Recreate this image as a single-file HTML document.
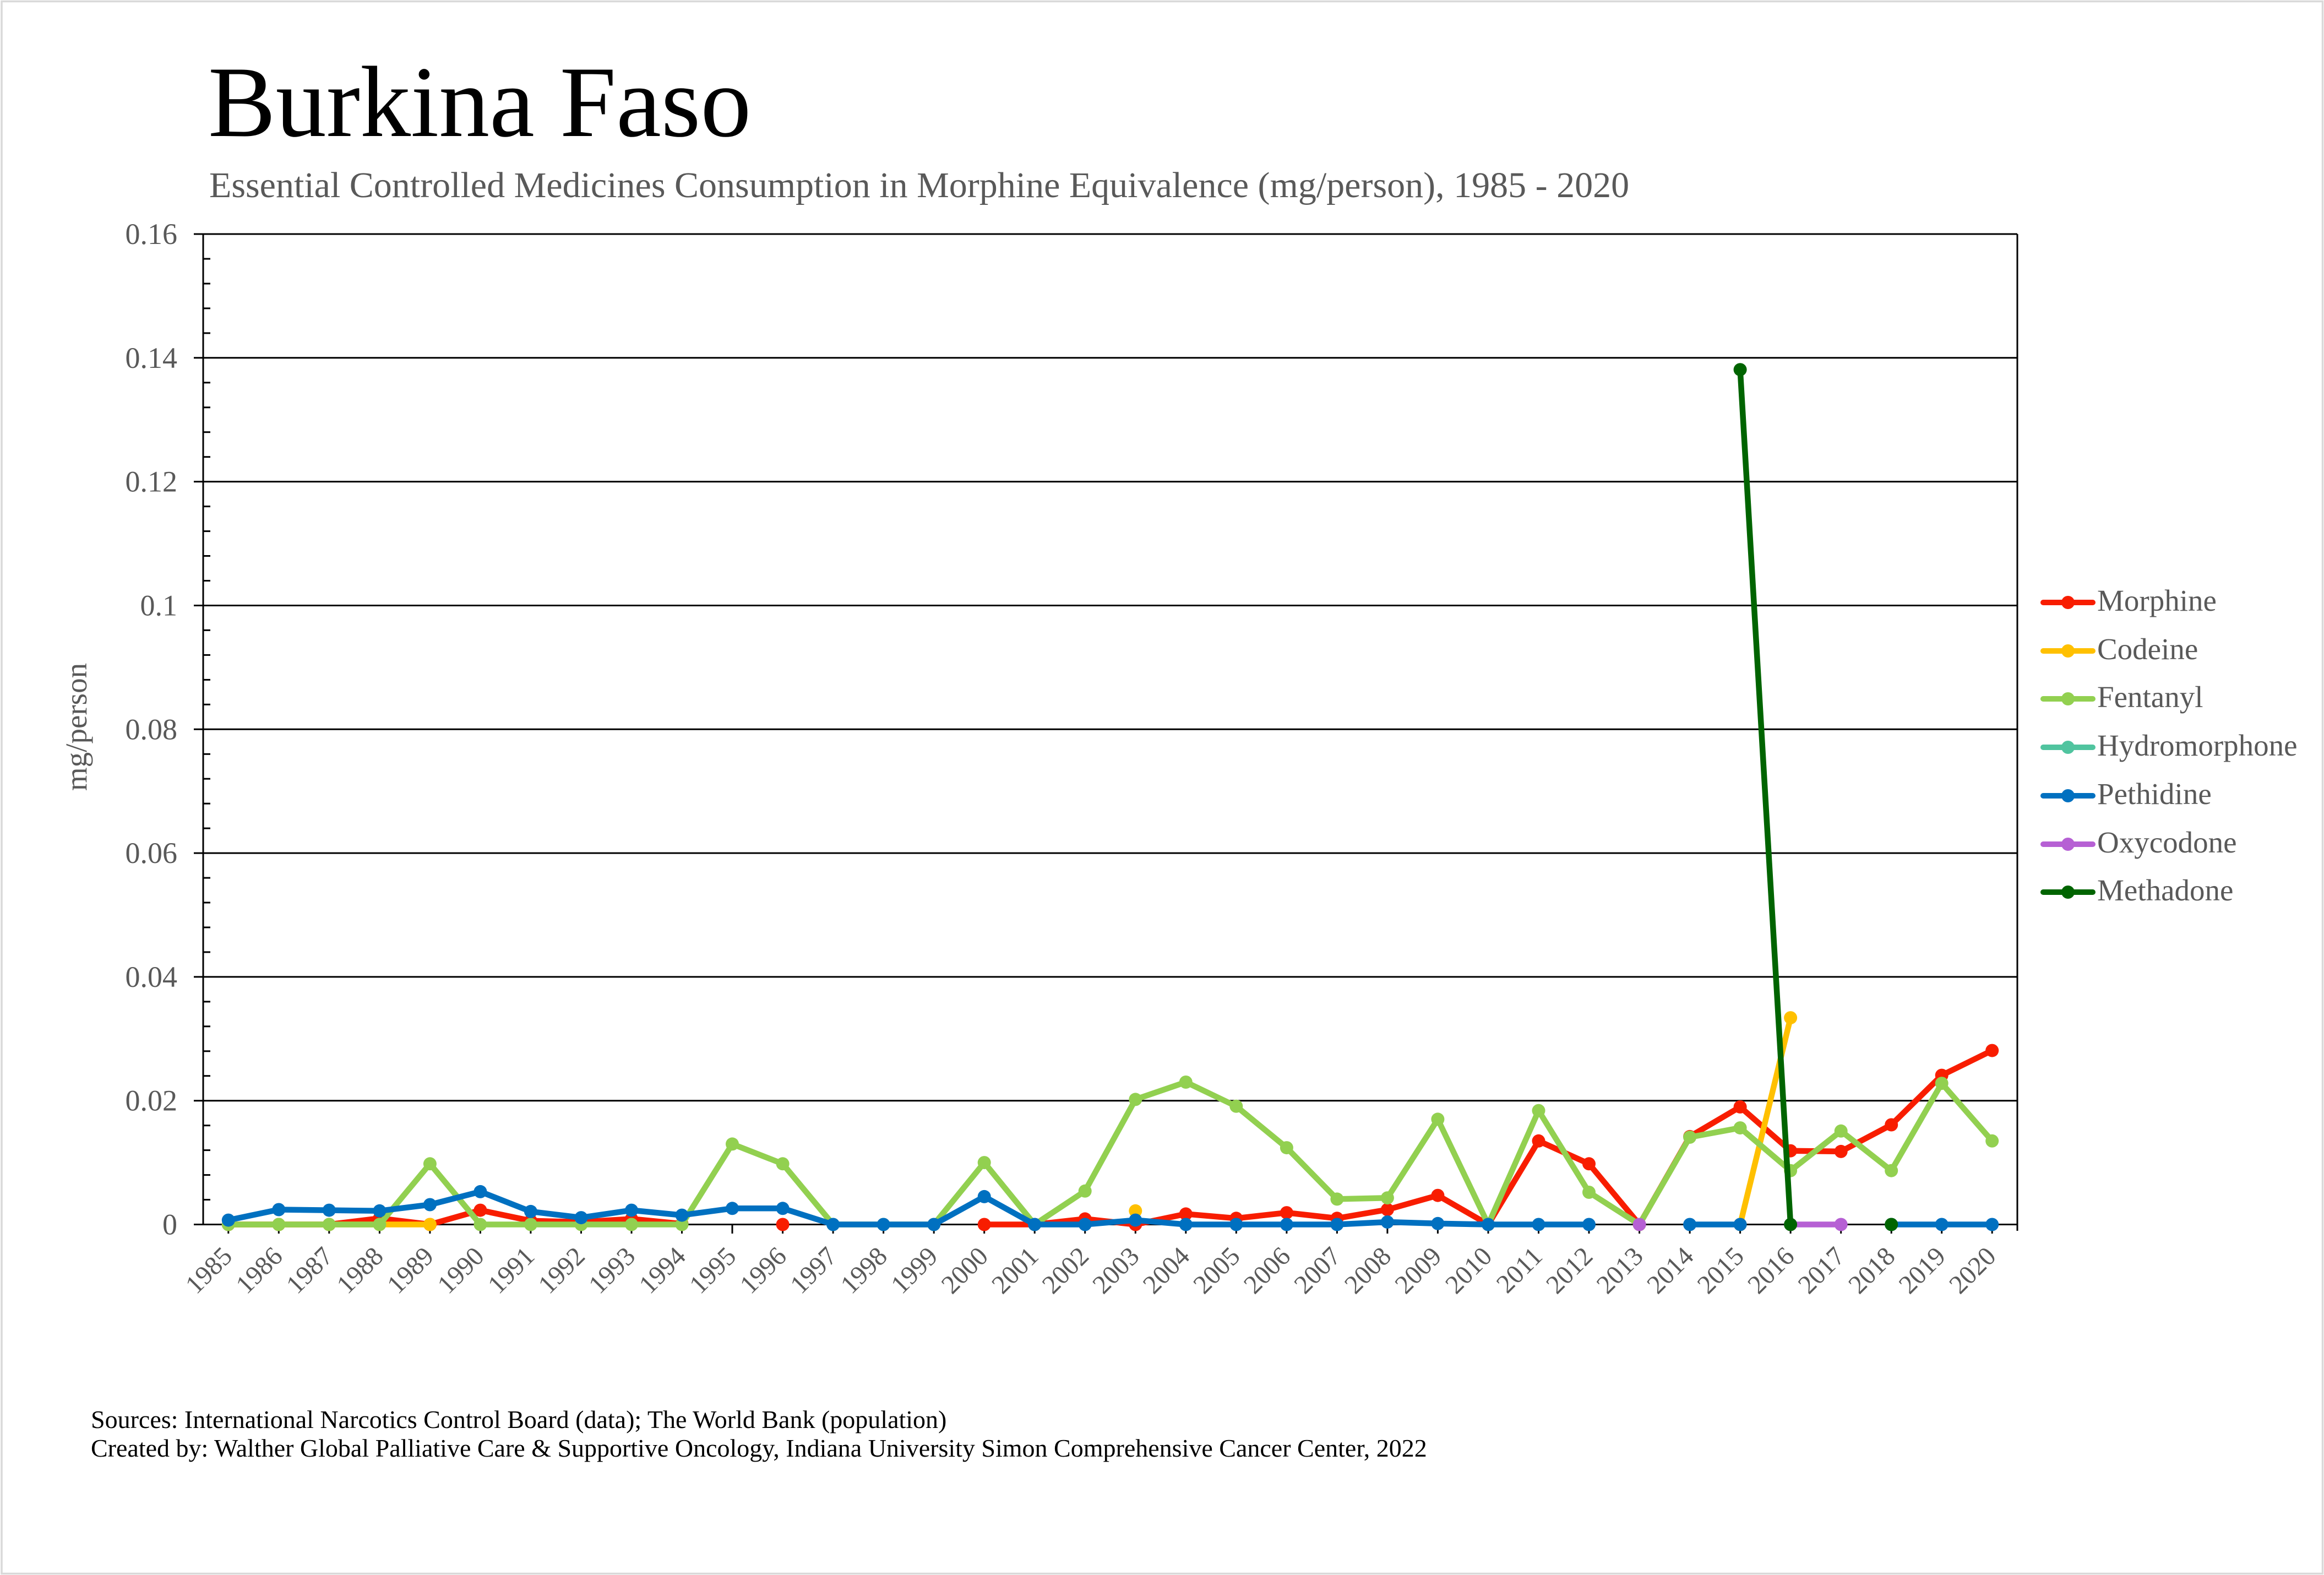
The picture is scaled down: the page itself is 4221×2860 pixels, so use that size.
<!DOCTYPE html>
<html>
<head>
<meta charset="utf-8">
<style>
html,body{margin:0;padding:0;background:#fff;}
svg{display:block;}
text{font-family:"Liberation Serif","Times New Roman",serif;}
</style>
</head>
<body>
<svg width="4221" height="2860" viewBox="0 0 4221 2860" xmlns="http://www.w3.org/2000/svg">
<rect x="0" y="0" width="4221" height="2860" fill="#fff"/>
<rect x="3" y="2.5" width="4215.5" height="2855" fill="none" stroke="#d9d9d9" stroke-width="3.5"/>

<!-- Title -->
<text x="378" y="247" font-size="184" fill="#000">Burkina Faso</text>
<text x="380" y="358" font-size="66" fill="#595959">Essential Controlled Medicines Consumption in Morphine Equivalence (mg/person), 1985 - 2020</text>

<!-- Gridlines + major ticks -->
<g stroke="#000" stroke-width="3">
<line x1="352" y1="425" x2="3664" y2="425"/>
<line x1="352" y1="649.8" x2="3664" y2="649.8"/>
<line x1="352" y1="874.6" x2="3664" y2="874.6"/>
<line x1="352" y1="1099.5" x2="3664" y2="1099.5"/>
<line x1="352" y1="1324.3" x2="3664" y2="1324.3"/>
<line x1="352" y1="1549.1" x2="3664" y2="1549.1"/>
<line x1="352" y1="1773.9" x2="3664" y2="1773.9"/>
<line x1="352" y1="1998.7" x2="3664" y2="1998.7"/>
<line x1="352" y1="2223.5" x2="3664" y2="2223.5"/>
<!-- axes / border -->
<line x1="369" y1="425" x2="369" y2="2223.5"/>
<line x1="3664" y1="425" x2="3664" y2="2235"/>
</g>
<!-- minor ticks -->
<g stroke="#000" stroke-width="3">
<line x1="369" y1="470" x2="382" y2="470"/><line x1="369" y1="515" x2="382" y2="515"/><line x1="369" y1="559.9" x2="382" y2="559.9"/><line x1="369" y1="604.9" x2="382" y2="604.9"/>
<line x1="369" y1="694.8" x2="382" y2="694.8"/><line x1="369" y1="739.8" x2="382" y2="739.8"/><line x1="369" y1="784.7" x2="382" y2="784.7"/><line x1="369" y1="829.7" x2="382" y2="829.7"/>
<line x1="369" y1="919.6" x2="382" y2="919.6"/><line x1="369" y1="964.6" x2="382" y2="964.6"/><line x1="369" y1="1009.5" x2="382" y2="1009.5"/><line x1="369" y1="1054.5" x2="382" y2="1054.5"/>
<line x1="369" y1="1144.4" x2="382" y2="1144.4"/><line x1="369" y1="1189.4" x2="382" y2="1189.4"/><line x1="369" y1="1234.4" x2="382" y2="1234.4"/><line x1="369" y1="1279.3" x2="382" y2="1279.3"/>
<line x1="369" y1="1369.3" x2="382" y2="1369.3"/><line x1="369" y1="1414.2" x2="382" y2="1414.2"/><line x1="369" y1="1459.2" x2="382" y2="1459.2"/><line x1="369" y1="1504.1" x2="382" y2="1504.1"/>
<line x1="369" y1="1594.1" x2="382" y2="1594.1"/><line x1="369" y1="1639" x2="382" y2="1639"/><line x1="369" y1="1684" x2="382" y2="1684"/><line x1="369" y1="1728.9" x2="382" y2="1728.9"/>
<line x1="369" y1="1818.9" x2="382" y2="1818.9"/><line x1="369" y1="1863.8" x2="382" y2="1863.8"/><line x1="369" y1="1908.8" x2="382" y2="1908.8"/><line x1="369" y1="1953.7" x2="382" y2="1953.7"/>
<line x1="369" y1="2043.7" x2="382" y2="2043.7"/><line x1="369" y1="2088.6" x2="382" y2="2088.6"/><line x1="369" y1="2133.6" x2="382" y2="2133.6"/><line x1="369" y1="2178.5" x2="382" y2="2178.5"/>
</g>
<!-- category ticks -->
<g stroke="#000" stroke-width="3">
<line x1="414.8" y1="2223" x2="414.8" y2="2240"/><line x1="506.3" y1="2223" x2="506.3" y2="2240"/><line x1="597.8" y1="2223" x2="597.8" y2="2240"/><line x1="689.4" y1="2223" x2="689.4" y2="2240"/>
<line x1="780.9" y1="2223" x2="780.9" y2="2240"/><line x1="872.4" y1="2223" x2="872.4" y2="2240"/><line x1="963.9" y1="2223" x2="963.9" y2="2240"/><line x1="1055.5" y1="2223" x2="1055.5" y2="2240"/>
<line x1="1147" y1="2223" x2="1147" y2="2240"/><line x1="1238.5" y1="2223" x2="1238.5" y2="2240"/><line x1="1330" y1="2223" x2="1330" y2="2240"/><line x1="1421.6" y1="2223" x2="1421.6" y2="2240"/>
<line x1="1513.1" y1="2223" x2="1513.1" y2="2240"/><line x1="1604.6" y1="2223" x2="1604.6" y2="2240"/><line x1="1696.2" y1="2223" x2="1696.2" y2="2240"/><line x1="1787.7" y1="2223" x2="1787.7" y2="2240"/>
<line x1="1879.2" y1="2223" x2="1879.2" y2="2240"/><line x1="1970.7" y1="2223" x2="1970.7" y2="2240"/><line x1="2062.3" y1="2223" x2="2062.3" y2="2240"/><line x1="2153.8" y1="2223" x2="2153.8" y2="2240"/>
<line x1="2245.3" y1="2223" x2="2245.3" y2="2240"/><line x1="2336.9" y1="2223" x2="2336.9" y2="2240"/><line x1="2428.4" y1="2223" x2="2428.4" y2="2240"/><line x1="2519.9" y1="2223" x2="2519.9" y2="2240"/>
<line x1="2611.4" y1="2223" x2="2611.4" y2="2240"/><line x1="2703" y1="2223" x2="2703" y2="2240"/><line x1="2794.5" y1="2223" x2="2794.5" y2="2240"/><line x1="2886" y1="2223" x2="2886" y2="2240"/>
<line x1="2977.6" y1="2223" x2="2977.6" y2="2240"/><line x1="3069.1" y1="2223" x2="3069.1" y2="2240"/><line x1="3160.6" y1="2223" x2="3160.6" y2="2240"/><line x1="3252.1" y1="2223" x2="3252.1" y2="2240"/>
<line x1="3343.7" y1="2223" x2="3343.7" y2="2240"/><line x1="3435.2" y1="2223" x2="3435.2" y2="2240"/><line x1="3526.7" y1="2223" x2="3526.7" y2="2240"/><line x1="3618.2" y1="2223" x2="3618.2" y2="2240"/>
</g>

<!-- Y labels -->
<g font-size="54" fill="#595959" text-anchor="end">
<text x="322" y="443">0.16</text>
<text x="322" y="667.8">0.14</text>
<text x="322" y="892.6">0.12</text>
<text x="322" y="1117.5">0.1</text>
<text x="322" y="1342.3">0.08</text>
<text x="322" y="1567.1">0.06</text>
<text x="322" y="1791.9">0.04</text>
<text x="322" y="2016.7">0.02</text>
<text x="322" y="2241.5">0</text>
</g>
<text x="157" y="1320" font-size="55" fill="#595959" text-anchor="middle" transform="rotate(-90 157 1320)">mg/person</text>

<!-- X labels -->
<g font-size="48" fill="#595959" text-anchor="end">
<text x="424.3" y="2284" transform="rotate(-45 424.3 2284)">1985</text>
<text x="515.8" y="2284" transform="rotate(-45 515.8 2284)">1986</text>
<text x="607.3" y="2284" transform="rotate(-45 607.3 2284)">1987</text>
<text x="698.9" y="2284" transform="rotate(-45 698.9 2284)">1988</text>
<text x="790.4" y="2284" transform="rotate(-45 790.4 2284)">1989</text>
<text x="881.9" y="2284" transform="rotate(-45 881.9 2284)">1990</text>
<text x="973.4" y="2284" transform="rotate(-45 973.4 2284)">1991</text>
<text x="1065" y="2284" transform="rotate(-45 1065 2284)">1992</text>
<text x="1156.5" y="2284" transform="rotate(-45 1156.5 2284)">1993</text>
<text x="1248" y="2284" transform="rotate(-45 1248 2284)">1994</text>
<text x="1339.5" y="2284" transform="rotate(-45 1339.5 2284)">1995</text>
<text x="1431.1" y="2284" transform="rotate(-45 1431.1 2284)">1996</text>
<text x="1522.6" y="2284" transform="rotate(-45 1522.6 2284)">1997</text>
<text x="1614.1" y="2284" transform="rotate(-45 1614.1 2284)">1998</text>
<text x="1705.7" y="2284" transform="rotate(-45 1705.7 2284)">1999</text>
<text x="1797.2" y="2284" transform="rotate(-45 1797.2 2284)">2000</text>
<text x="1888.7" y="2284" transform="rotate(-45 1888.7 2284)">2001</text>
<text x="1980.2" y="2284" transform="rotate(-45 1980.2 2284)">2002</text>
<text x="2071.8" y="2284" transform="rotate(-45 2071.8 2284)">2003</text>
<text x="2163.3" y="2284" transform="rotate(-45 2163.3 2284)">2004</text>
<text x="2254.8" y="2284" transform="rotate(-45 2254.8 2284)">2005</text>
<text x="2346.4" y="2284" transform="rotate(-45 2346.4 2284)">2006</text>
<text x="2437.9" y="2284" transform="rotate(-45 2437.9 2284)">2007</text>
<text x="2529.4" y="2284" transform="rotate(-45 2529.4 2284)">2008</text>
<text x="2620.9" y="2284" transform="rotate(-45 2620.9 2284)">2009</text>
<text x="2712.5" y="2284" transform="rotate(-45 2712.5 2284)">2010</text>
<text x="2804" y="2284" transform="rotate(-45 2804 2284)">2011</text>
<text x="2895.5" y="2284" transform="rotate(-45 2895.5 2284)">2012</text>
<text x="2987.1" y="2284" transform="rotate(-45 2987.1 2284)">2013</text>
<text x="3078.6" y="2284" transform="rotate(-45 3078.6 2284)">2014</text>
<text x="3170.1" y="2284" transform="rotate(-45 3170.1 2284)">2015</text>
<text x="3261.6" y="2284" transform="rotate(-45 3261.6 2284)">2016</text>
<text x="3353.2" y="2284" transform="rotate(-45 3353.2 2284)">2017</text>
<text x="3444.7" y="2284" transform="rotate(-45 3444.7 2284)">2018</text>
<text x="3536.2" y="2284" transform="rotate(-45 3536.2 2284)">2019</text>
<text x="3627.7" y="2284" transform="rotate(-45 3627.7 2284)">2020</text>
</g>

<!-- Series: Morphine -->
<g stroke="#F81D00" fill="#F81D00" stroke-width="10.5" stroke-linejoin="round" stroke-linecap="round">
<polyline fill="none" points="414.8,2223.5 506.3,2223.5 597.8,2223.5 689.4,2212.3 780.9,2223.5 872.4,2197.6 963.9,2216.8 1055.5,2219 1147,2213.4 1238.5,2222.4"/>
<polyline fill="none" points="1787.7,2223.5 1879.2,2223.5 1970.7,2213.4 2062.3,2223.5 2153.8,2204.4 2245.3,2212.3 2336.9,2202.1 2428.4,2212.3 2519.9,2196.5 2611.4,2170.7 2703,2223.5 2794.5,2071.8 2886,2113.3 2977.6,2223.5 3069.1,2063.9 3160.6,2010 3252.1,2089.7 3343.7,2090.9 3435.2,2042.5 3526.7,1952.6 3618.2,1907.6"/>
<g stroke="none">
<circle cx="414.8" cy="2223.5" r="12"/><circle cx="506.3" cy="2223.5" r="12"/><circle cx="597.8" cy="2223.5" r="12"/><circle cx="689.4" cy="2212.3" r="12"/><circle cx="780.9" cy="2223.5" r="12"/><circle cx="872.4" cy="2197.6" r="12"/><circle cx="963.9" cy="2216.8" r="12"/><circle cx="1055.5" cy="2219" r="12"/><circle cx="1147" cy="2213.4" r="12"/><circle cx="1238.5" cy="2222.4" r="12"/>
<circle cx="1421.6" cy="2223.5" r="12"/>
<circle cx="1787.7" cy="2223.5" r="12"/><circle cx="1879.2" cy="2223.5" r="12"/><circle cx="1970.7" cy="2213.4" r="12"/><circle cx="2062.3" cy="2223.5" r="12"/><circle cx="2153.8" cy="2204.4" r="12"/><circle cx="2245.3" cy="2212.3" r="12"/><circle cx="2336.9" cy="2202.1" r="12"/><circle cx="2428.4" cy="2212.3" r="12"/><circle cx="2519.9" cy="2196.5" r="12"/><circle cx="2611.4" cy="2170.7" r="12"/><circle cx="2703" cy="2223.5" r="12"/><circle cx="2794.5" cy="2071.8" r="12"/><circle cx="2886" cy="2113.3" r="12"/><circle cx="2977.6" cy="2223.5" r="12"/><circle cx="3069.1" cy="2063.9" r="12"/><circle cx="3160.6" cy="2010" r="12"/><circle cx="3252.1" cy="2089.7" r="12"/><circle cx="3343.7" cy="2090.9" r="12"/><circle cx="3435.2" cy="2042.5" r="12"/><circle cx="3526.7" cy="1952.6" r="12"/><circle cx="3618.2" cy="1907.6" r="12"/>
</g>
</g>

<!-- Codeine -->
<g stroke="#FFC000" fill="#FFC000" stroke-width="10.5" stroke-linejoin="round" stroke-linecap="round">
<polyline fill="none" points="414.8,2223.5 506.3,2223.5 597.8,2223.5 689.4,2223.5 780.9,2223.5"/>
<polyline fill="none" points="3160.6,2223.5 3252.1,1848.1"/>
<g stroke="none">
<circle cx="414.8" cy="2223.5" r="12"/><circle cx="506.3" cy="2223.5" r="12"/><circle cx="597.8" cy="2223.5" r="12"/><circle cx="689.4" cy="2223.5" r="12"/><circle cx="780.9" cy="2223.5" r="12"/>
<circle cx="2062.3" cy="2198.8" r="12"/>
<circle cx="3160.6" cy="2223.5" r="12"/><circle cx="3252.1" cy="1848.1" r="12"/>
</g>
</g>

<!-- Fentanyl -->
<g stroke="#92D050" fill="#92D050" stroke-width="10.5" stroke-linejoin="round" stroke-linecap="round">
<polyline fill="none" points="414.8,2223.5 506.3,2223.5 597.8,2223.5 689.4,2223.5 780.9,2113.3 872.4,2223.5 963.9,2223.5 1055.5,2223.5 1147,2223.5 1238.5,2223.5 1330,2077.4 1421.6,2113.3 1513.1,2223.5 1604.6,2223.5 1696.2,2223.5 1787.7,2111.1 1879.2,2223.5 1970.7,2162.8 2062.3,1996.4 2153.8,1965 2245.3,2008.8 2336.9,2084.1 2428.4,2177.4 2519.9,2175.2 2611.4,2032.4 2703,2223.5 2794.5,2016.7 2886,2165 2977.6,2223.5 3069.1,2065 3160.6,2048.1 3252.1,2125.7 3343.7,2053.8 3435.2,2125.7 3526.7,1967.2 3618.2,2071.8"/>
<g stroke="none">
<circle cx="414.8" cy="2223.5" r="12"/><circle cx="506.3" cy="2223.5" r="12"/><circle cx="597.8" cy="2223.5" r="12"/><circle cx="689.4" cy="2223.5" r="12"/><circle cx="780.9" cy="2113.3" r="12"/><circle cx="872.4" cy="2223.5" r="12"/><circle cx="963.9" cy="2223.5" r="12"/><circle cx="1055.5" cy="2223.5" r="12"/><circle cx="1147" cy="2223.5" r="12"/><circle cx="1238.5" cy="2223.5" r="12"/><circle cx="1330" cy="2077.4" r="12"/><circle cx="1421.6" cy="2113.3" r="12"/><circle cx="1513.1" cy="2223.5" r="12"/><circle cx="1604.6" cy="2223.5" r="12"/><circle cx="1696.2" cy="2223.5" r="12"/><circle cx="1787.7" cy="2111.1" r="12"/><circle cx="1879.2" cy="2223.5" r="12"/><circle cx="1970.7" cy="2162.8" r="12"/><circle cx="2062.3" cy="1996.4" r="12"/><circle cx="2153.8" cy="1965" r="12"/><circle cx="2245.3" cy="2008.8" r="12"/><circle cx="2336.9" cy="2084.1" r="12"/><circle cx="2428.4" cy="2177.4" r="12"/><circle cx="2519.9" cy="2175.2" r="12"/><circle cx="2611.4" cy="2032.4" r="12"/><circle cx="2703" cy="2223.5" r="12"/><circle cx="2794.5" cy="2016.7" r="12"/><circle cx="2886" cy="2165" r="12"/><circle cx="2977.6" cy="2223.5" r="12"/><circle cx="3069.1" cy="2065" r="12"/><circle cx="3160.6" cy="2048.1" r="12"/><circle cx="3252.1" cy="2125.7" r="12"/><circle cx="3343.7" cy="2053.8" r="12"/><circle cx="3435.2" cy="2125.7" r="12"/><circle cx="3526.7" cy="1967.2" r="12"/><circle cx="3618.2" cy="2071.8" r="12"/>
</g>
</g>

<!-- Pethidine -->
<g stroke="#0070C0" fill="#0070C0" stroke-width="10.5" stroke-linejoin="round" stroke-linecap="round">
<polyline fill="none" points="414.8,2215.6 506.3,2196.5 597.8,2197.6 689.4,2198.8 780.9,2187.5 872.4,2163.9 963.9,2199.9 1055.5,2211.1 1147,2197.6 1238.5,2206.6 1330,2194.3 1421.6,2194.3 1513.1,2223.5 1604.6,2223.5 1696.2,2223.5 1787.7,2172.9 1879.2,2223.5 1970.7,2223.5 2062.3,2215.6 2153.8,2223.5 2245.3,2223.5 2336.9,2223.5 2428.4,2223.5 2519.9,2219 2611.4,2221.8 2703,2223.5 2794.5,2223.5 2886,2223.5"/>
<polyline fill="none" points="3069.1,2223.5 3160.6,2223.5"/>
<polyline fill="none" points="3435.2,2223.5 3526.7,2223.5 3618.2,2223.5"/>
<g stroke="none">
<circle cx="414.8" cy="2215.6" r="12"/><circle cx="506.3" cy="2196.5" r="12"/><circle cx="597.8" cy="2197.6" r="12"/><circle cx="689.4" cy="2198.8" r="12"/><circle cx="780.9" cy="2187.5" r="12"/><circle cx="872.4" cy="2163.9" r="12"/><circle cx="963.9" cy="2199.9" r="12"/><circle cx="1055.5" cy="2211.1" r="12"/><circle cx="1147" cy="2197.6" r="12"/><circle cx="1238.5" cy="2206.6" r="12"/><circle cx="1330" cy="2194.3" r="12"/><circle cx="1421.6" cy="2194.3" r="12"/><circle cx="1513.1" cy="2223.5" r="12"/><circle cx="1604.6" cy="2223.5" r="12"/><circle cx="1696.2" cy="2223.5" r="12"/><circle cx="1787.7" cy="2172.9" r="12"/><circle cx="1879.2" cy="2223.5" r="12"/><circle cx="1970.7" cy="2223.5" r="12"/><circle cx="2062.3" cy="2215.6" r="12"/><circle cx="2153.8" cy="2223.5" r="12"/><circle cx="2245.3" cy="2223.5" r="12"/><circle cx="2336.9" cy="2223.5" r="12"/><circle cx="2428.4" cy="2223.5" r="12"/><circle cx="2519.9" cy="2219" r="12"/><circle cx="2611.4" cy="2221.8" r="12"/><circle cx="2703" cy="2223.5" r="12"/><circle cx="2794.5" cy="2223.5" r="12"/><circle cx="2886" cy="2223.5" r="12"/>
<circle cx="3069.1" cy="2223.5" r="12"/><circle cx="3160.6" cy="2223.5" r="12"/>
<circle cx="3435.2" cy="2223.5" r="12"/><circle cx="3526.7" cy="2223.5" r="12"/><circle cx="3618.2" cy="2223.5" r="12"/>
</g>
</g>

<!-- Oxycodone -->
<g stroke="#B660D4" fill="#B660D4" stroke-width="10.5" stroke-linejoin="round" stroke-linecap="round">
<polyline fill="none" points="3252.1,2223.5 3343.7,2223.5"/>
<g stroke="none">
<circle cx="2977.6" cy="2223.5" r="12"/><circle cx="3252.1" cy="2223.5" r="12"/><circle cx="3343.7" cy="2223.5" r="12"/>
</g>
</g>

<!-- Methadone -->
<g stroke="#006400" fill="#006400" stroke-width="10.5" stroke-linejoin="round" stroke-linecap="round">
<polyline fill="none" points="3160.6,671.2 3252.1,2223.5"/>
<g stroke="none">
<circle cx="3160.6" cy="671.2" r="12"/><circle cx="3252.1" cy="2223.5" r="12"/><circle cx="3435.2" cy="2223.5" r="12"/>
</g>
</g>

<!-- Legend -->
<g stroke-width="10" stroke-linecap="round">
<line x1="3711" y1="1094" x2="3801" y2="1094" stroke="#F81D00"/><circle cx="3756" cy="1094" r="12" fill="#F81D00"/>
<line x1="3711" y1="1182" x2="3801" y2="1182" stroke="#FFC000"/><circle cx="3756" cy="1182" r="12" fill="#FFC000"/>
<line x1="3711" y1="1269" x2="3801" y2="1269" stroke="#92D050"/><circle cx="3756" cy="1269" r="12" fill="#92D050"/>
<line x1="3711" y1="1357" x2="3801" y2="1357" stroke="#50C49F"/><circle cx="3756" cy="1357" r="12" fill="#50C49F"/>
<line x1="3711" y1="1445" x2="3801" y2="1445" stroke="#0070C0"/><circle cx="3756" cy="1445" r="12" fill="#0070C0"/>
<line x1="3711" y1="1533" x2="3801" y2="1533" stroke="#B660D4"/><circle cx="3756" cy="1533" r="12" fill="#B660D4"/>
<line x1="3711" y1="1620" x2="3801" y2="1620" stroke="#006400"/><circle cx="3756" cy="1620" r="12" fill="#006400"/>
</g>
<g font-size="55" fill="#595959">
<text x="3809" y="1109">Morphine</text>
<text x="3809" y="1197">Codeine</text>
<text x="3809" y="1284">Fentanyl</text>
<text x="3809" y="1372">Hydromorphone</text>
<text x="3809" y="1460">Pethidine</text>
<text x="3809" y="1548">Oxycodone</text>
<text x="3809" y="1635">Methadone</text>
</g>

<!-- Sources -->
<g font-size="46" fill="#000">
<text x="165" y="2593">Sources: International Narcotics Control Board (data); The World Bank (population)</text>
<text x="165" y="2645">Created by: Walther Global Palliative Care &amp; Supportive Oncology, Indiana University Simon Comprehensive Cancer Center, 2022</text>
</g>
</svg>
</body>
</html>
